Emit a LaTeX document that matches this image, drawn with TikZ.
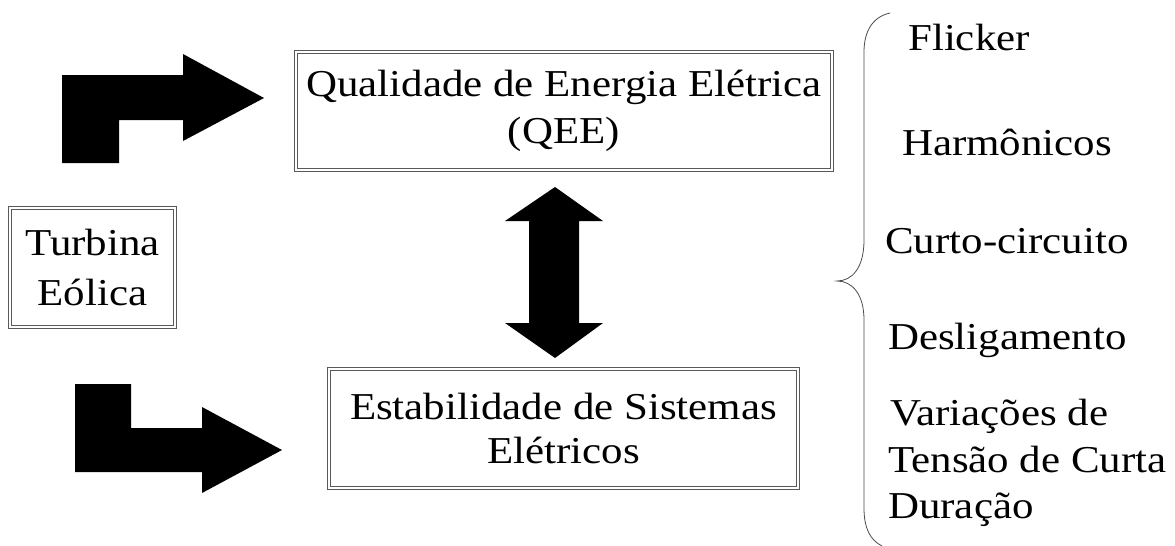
\documentclass[tikz,border=0pt]{standalone}
\usepackage{fontspec}
\setmainfont{Liberation Serif}[FakeStretch=1.13]
\usetikzlibrary {positioning, calc}

\tikzset{
  dblbox/.style={draw=black!65, double=white, double distance=1.4pt,
    line width=0.9pt, inner sep=0pt, align=center},
  bigtext/.style={font=\fontsize{38}{#1}\selectfont},
  item/.style={anchor=base west, inner sep=0pt, font=\fontsize{38}{47}\selectfont},
  blockarrow/.style={fill=black}
}

\begin{document}
\begin{tikzpicture}[x=1pt, y=-1pt]
  \useasboundingbox (0,0) rectangle (1175,546);

  % boxes
  \node[dblbox, bigtext=47, minimum width=536pt, minimum height=118pt] (qee) at (564,111)
    {Qualidade de Energia Elétrica\\(QEE)};
  \node[dblbox, bigtext=44, minimum width=469pt, minimum height=119pt] (est) at (563.5,428.5)
    {Estabilidade de Sistemas\\Elétricos};
  \node[dblbox, bigtext=50, minimum width=165pt, minimum height=119pt] (turb) at (92.5,267.5)
    {Turbina\\Eólica};

  % block arrows
  \fill[blockarrow] (62,75) -- (183,75) -- (183,54) -- (264,98) -- (183,141)
    -- (183,120) -- (119,120) -- (119,163) -- (62,163) -- cycle;
  \fill[blockarrow] (75,384) -- (131,384) -- (131,428) -- (202,428) -- (202,407)
    -- (282,450) -- (202,493) -- (202,472) -- (75,472) -- cycle;
  \fill[blockarrow] (555,187) -- (603,221) -- (579,221) -- (579,323) -- (603,323)
    -- (555,358) -- (505,323) -- (529,323) -- (529,221) -- (505,221) -- cycle;

  % brace
  \draw[black!70, line width=0.8pt] (890,13) .. controls (872,17) and (864,32) .. (864,52)
    -- (864,240) .. controls (864,268) and (852,281) .. (837,281)
    .. controls (852,281) and (864,294) .. (864,320)
    -- (864,508) .. controls (864,528) and (870,540) .. (882,546);

  % effects
  \node[item] (flk) at (908,50) {Flicker};
  \node[item] (harm) at (902,155) {Harmônicos};
  \node[item] (curto) at (885,253) {Curto-circuito};
  \node[item] (desl) at (888,349) {Desligamento};
  \node[item] (var1) at (890,425) {Variações de};
  \node[item] (var2) at (888,472) {Tensão de Curta};
  \node[item] (var3) at (888,518) {Duração};
\end{tikzpicture}
\end{document}
